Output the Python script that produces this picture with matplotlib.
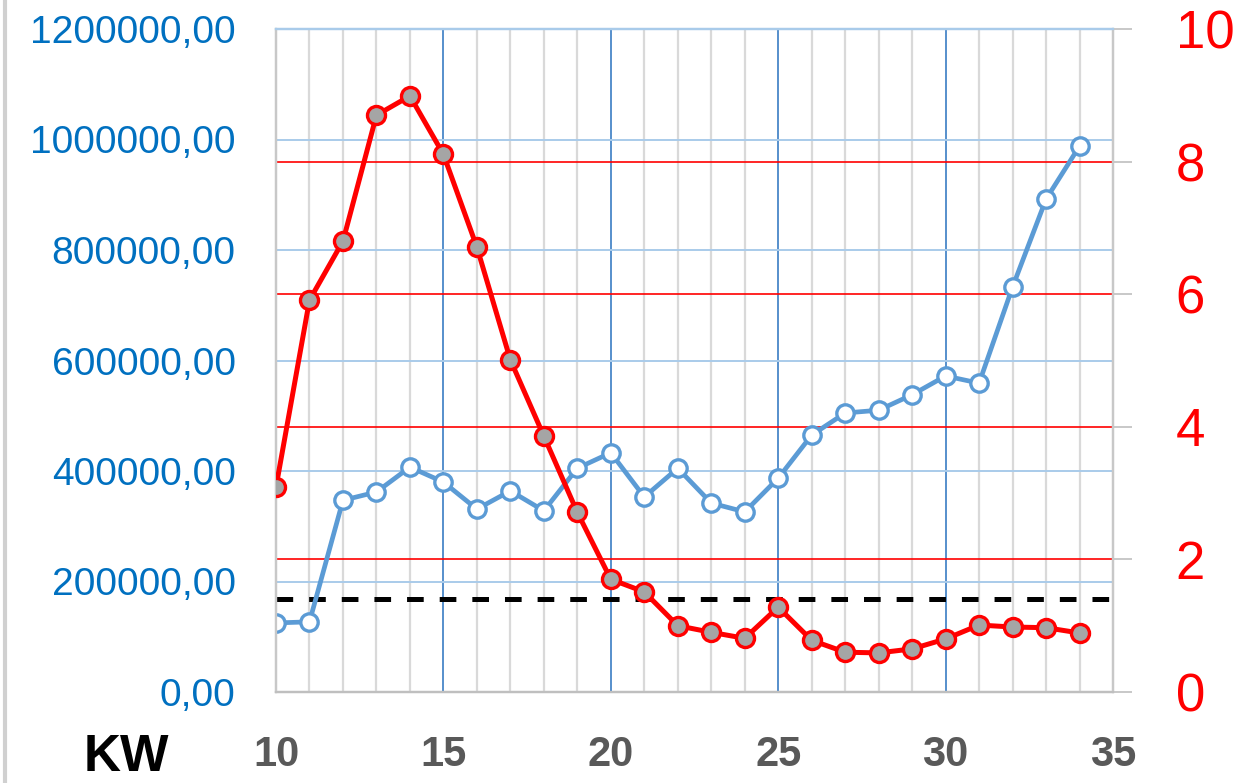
import matplotlib
matplotlib.use("Agg")
import matplotlib.pyplot as plt
from matplotlib.lines import Line2D

# ---------------- data ----------------
weeks = list(range(10, 35))
blue_values = [125000, 127000, 347000, 362000, 407000, 380000, 331000, 364000,
               328000, 405000, 433000, 353000, 405000, 342000, 326000, 387000,
               465000, 505000, 510000, 538000, 572000, 559000, 733000, 892000,
               988000]
red_values = [3.09, 5.91, 6.80, 8.70, 8.99, 8.11, 6.71, 5.01, 3.86, 2.71, 1.70,
              1.51, 1.00, 0.90, 0.81, 1.28, 0.78, 0.60, 0.59, 0.65, 0.80, 1.01,
              0.98, 0.97, 0.89]
threshold_right = 1.4
left_ticks = [0, 200000, 400000, 600000, 800000, 1000000, 1200000]
left_labels = ["0,00", "200000,00", "400000,00", "600000,00", "800000,00",
               "1000000,00", "1200000,00"]
right_ticks = [0, 2, 4, 6, 8, 10]
red_grid = [2, 4, 6, 8]
x_major = [10, 15, 20, 25, 30, 35]
x_label = "KW"

FONT = ["Liberation Sans", "DejaVu Sans"]
plt.rcParams["font.family"] = FONT

# ---------------- figure ----------------
fig = plt.figure(figsize=(12.4, 7.83), dpi=100)
ax = fig.add_axes([276/1240, 1-692/783, (1113-276)/1240, (692-29)/783])
ax2 = ax.twinx()

ax.set_xlim(10, 35)
ax.set_ylim(0, 1200000)
ax2.set_ylim(0, 10)

# grid
ax.set_xticks(x_major)
ax.set_xticks(range(10, 36), minor=True)
ax.grid(which="minor", axis="x", color="#D9D9D9", linewidth=1.6, zorder=0)
ax.grid(which="major", axis="x", color="#3A7DC4", linewidth=1.2, zorder=0)
ax.set_yticks(left_ticks)
ax.set_yticklabels(left_labels)
ax.grid(which="major", axis="y", color="#A9CBEA", linewidth=1.4, zorder=0)
ax.set_axisbelow(True)

for v in red_grid:
    ax.add_line(Line2D([0, 1], [v, v], transform=ax2.get_yaxis_transform(),
                       color="#FF0000", linewidth=1.2, zorder=1))

lw_dash = 3.6
ax.add_line(Line2D([0, 1], [threshold_right, threshold_right],
                   transform=ax2.get_yaxis_transform(), color="black",
                   linewidth=lw_dash, zorder=2,
                   linestyle=(0, (12/lw_dash, 11.5/lw_dash))))

# blue series
ax.plot(weeks, blue_values, color="#5B9BD5", linewidth=3.4, marker="o",
        markersize=12.5, markerfacecolor="white", markeredgecolor="#5B9BD5",
        markeredgewidth=2.4, zorder=3)

# red series
ax2.plot(weeks, red_values, color="#FF0000", linewidth=3.6, marker="o",
         markersize=13, markerfacecolor="#A5A5A5", markeredgecolor="#FF0000",
         markeredgewidth=2.4, zorder=3)

# spines
for a in (ax, ax2):
    a.spines["top"].set_color("#A9CBEA")
    a.spines["left"].set_color("#C8C8C8")
    a.spines["right"].set_color("#C8C8C8")
    a.spines["bottom"].set_color("#BFBFBF")
    for s in a.spines.values():
        s.set_linewidth(1.6)

# ticks
ax.tick_params(axis="y", which="both", length=0, pad=29, labelsize=28,
               labelcolor="#0070C0")
ax.tick_params(axis="x", which="both", length=0, pad=31, labelsize=30,
               labelcolor="#595959")
for lbl in ax.get_xticklabels():
    lbl.set_fontweight("bold")
ax2.set_yticks(right_ticks)
ax2.tick_params(axis="y", length=14, width=1.4, color="#C8C8C8", pad=31,
                labelsize=38, labelcolor="#FF0000")

fig.text(126/1240, 1/783, x_label, fontsize=37, fontweight="bold",
         color="black", ha="center", va="bottom")

# left border line of the picture
fig.add_artist(Line2D([5/1240, 5/1240], [0, 1], transform=fig.transFigure,
                      color="#D0D0D0", linewidth=3))

fig.savefig("out.png", dpi=100)
